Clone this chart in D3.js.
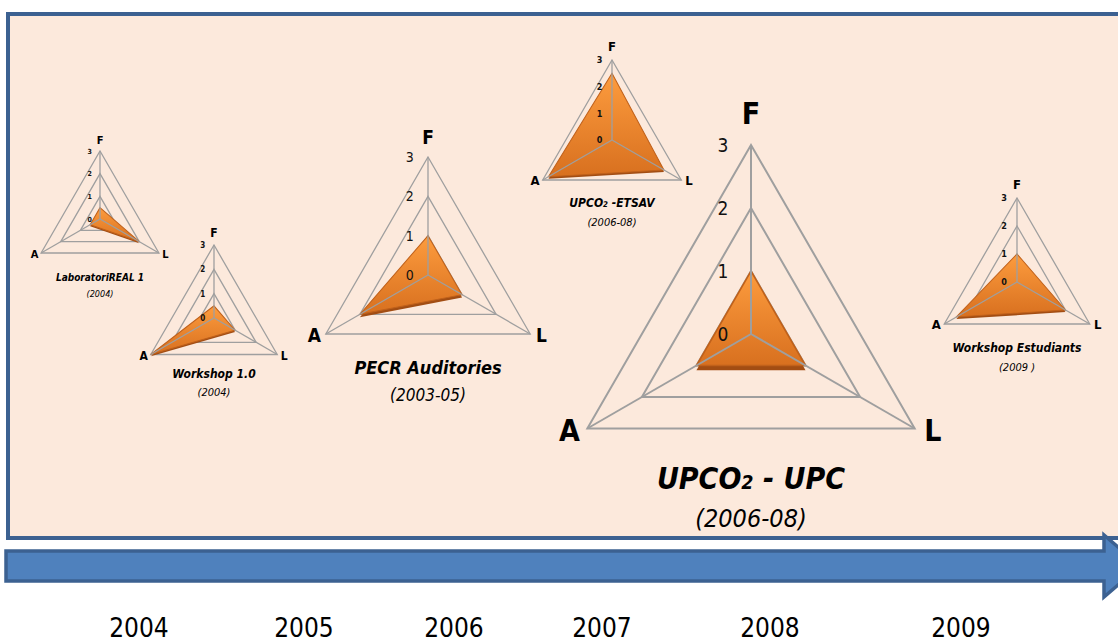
<!DOCTYPE html>
<html>
<head>
<meta charset="utf-8">
<script src="https://cdn.jsdelivr.net/npm/d3@7"></script>
<style>
  body { margin: 0; background: #ffffff; }
  svg { display: block; }
</style>
</head>
<body>
<div id="chart"></div>
<script>
// radar values per project, axes F / L / A on a 0-3 scale
var charts = ["LaboratoriREAL 1", "Workshop 1.0", "PECR Auditories", "UPCO2 -ETSAV", "UPCO2 - UPC", "Workshop Estudiants"];
var periods = ["(2004)", "(2004)", "(2003-05)", "(2006-08)", "(2006-08)", "(2009 )"];
var axes = ["F", "L", "A"];
var fValues = [0.5, 0.5, 1, 2.5, 1, 1];
var lValues = [2, 1, 1, 2.25, 1, 2];
var aValues = [0.5, 3, 2, 2.75, 1, 2.5];
var tickValues = [0, 1, 2, 3];
var years = [2004, 2005, 2006, 2007, 2008, 2009];

// where each radar sits on the slide
var layout = [
  {cx: 100,  cy: 219, r: 68,  lab: 11, tick: 7,  tfs: 10, sfs: 9,  ty: 281, sy: 297},
  {cx: 214,  cy: 318, r: 73,  lab: 12, tick: 8,  tfs: 12, sfs: 11, ty: 378, sy: 396},
  {cx: 428,  cy: 275, r: 118, lab: 19, tick: 14, tfs: 18, sfs: 17, ty: 374, sy: 401},
  {cx: 612,  cy: 140, r: 80,  lab: 13, tick: 9,  tfs: 12, sfs: 11, ty: 207, sy: 226},
  {cx: 751,  cy: 334, r: 189, lab: 30, tick: 19, tfs: 30, sfs: 25, ty: 489, sy: 527},
  {cx: 1017, cy: 282, r: 84,  lab: 13, tick: 9,  tfs: 12, sfs: 11, ty: 352, sy: 371}
];
var yearPos = [139, 304, 454, 602, 770, 961];

var width = 1118, height = 642;
var font = "'DejaVu Sans Condensed', 'DejaVu Sans', sans-serif";

var svg = d3.select('#chart').append('svg')
  .attr('width', width)
  .attr('height', height)
  .style('background', '#ffffff');

var defs = svg.append('defs');
var grad = defs.append('linearGradient')
  .attr('id', 'orange')
  .attr('x1', 0).attr('y1', 0).attr('x2', 0).attr('y2', 1);
grad.append('stop').attr('offset', '0%').attr('stop-color', '#fd9c3e');
grad.append('stop').attr('offset', '100%').attr('stop-color', '#d8701f');

// panel
svg.append('rect')
  .attr('x', 8).attr('y', 14)
  .attr('width', 1140).attr('height', 524)
  .style('fill', '#fce9dc')
  .style('stroke', '#3c6191')
  .style('stroke-width', 4);

// timeline arrow
svg.append('path')
  .attr('d', 'M6,551 L1104,551 L1104,535 L1140,566 L1104,597 L1104,581 L6,581 Z')
  .style('fill', '#4f81bd')
  .style('stroke', '#3c6191')
  .style('stroke-width', 3.5);

var yearX = d3.scaleOrdinal().domain(years).range(yearPos);
svg.append('g').selectAll('text')
  .data(years)
  .enter().append('text')
  .attr('x', function(d) { return yearX(d); })
  .attr('y', 637)
  .attr('text-anchor', 'middle')
  .style('font-family', font)
  .style('font-size', '26px')
  .style('fill', '#000')
  .text(function(d) { return d; });

var angle = d3.scaleOrdinal().domain(axes).range([0, 2 * Math.PI / 3, 4 * Math.PI / 3]);

function point(a, rad) {
  var t = angle(a);
  return [rad * Math.sin(t), -rad * Math.cos(t)];
}

charts.forEach(function(name, i) {
  var L = layout[i];
  var rScale = d3.scaleLinear().domain([0, 3]).range([0, L.r]);
  var sw = Math.max(1.3, L.r / 95);
  var values = {F: fValues[i], L: lValues[i], A: aValues[i]};

  var g = svg.append('g')
    .attr('transform', 'translate(' + L.cx + ',' + L.cy + ')');

  var line = d3.lineRadial()
    .angle(function(d) { return angle(d.axis); })
    .radius(function(d) { return rScale(d.value); })
    .curve(d3.curveLinearClosed);

  // rings
  g.selectAll('.ring')
    .data(tickValues.filter(function(t) { return t > 0; }))
    .enter().append('path')
    .attr('d', function(t) {
      return line(axes.map(function(a) { return {axis: a, value: t}; }));
    })
    .style('fill', 'none')
    .style('stroke', '#9f9f9f')
    .style('stroke-width', sw);

  var series = axes.map(function(a) { return {axis: a, value: values[a]}; });

  // shadow edge + filled area
  g.append('path')
    .attr('d', line(series))
    .attr('transform', 'translate(0,' + (L.r * 0.025) + ')')
    .style('fill', '#a24d13');
  g.append('path')
    .attr('d', line(series))
    .style('fill', 'url(#orange)')
    .style('stroke', '#c0611b')
    .style('stroke-width', sw * 0.8);

  // spokes
  g.selectAll('.spoke')
    .data(axes)
    .enter().append('line')
    .attr('x1', 0).attr('y1', 0)
    .attr('x2', function(a) { return point(a, rScale(3))[0]; })
    .attr('y2', function(a) { return point(a, rScale(3))[1]; })
    .style('stroke', '#9f9f9f')
    .style('stroke-width', sw);

  // tick labels along F axis
  g.selectAll('.tick')
    .data(tickValues)
    .enter().append('text')
    .attr('x', -L.r * 0.12)
    .attr('y', function(t) { return -rScale(t); })
    .attr('dy', '0.36em')
    .attr('text-anchor', 'end')
    .style('font-family', font)
    .style('font-size', L.tick + 'px')
    .style('font-weight', L.r < 90 ? 'bold' : 'normal')
    .style('fill', '#111')
    .text(function(t) { return t; });

  // axis letters
  g.selectAll('.axislab')
    .data(axes)
    .enter().append('text')
    .attr('x', function(a) {
      var p = point(a, rScale(3));
      if (a === 'A') return p[0] - L.r * 0.04;
      if (a === 'L') return p[0] + L.r * 0.05;
      return p[0];
    })
    .attr('y', function(a) {
      var p = point(a, rScale(3));
      if (a === 'F') return p[1] - L.r * 0.11;
      return p[1] + L.lab * 0.42;
    })
    .attr('text-anchor', function(a) {
      return a === 'A' ? 'end' : (a === 'L' ? 'start' : 'middle');
    })
    .style('font-family', font)
    .style('font-size', L.lab + 'px')
    .style('font-weight', 'bold')
    .style('fill', '#000')
    .text(function(a) { return a; });

  // title with subscript 2
  var title = svg.append('text')
    .attr('x', L.cx)
    .attr('y', L.ty)
    .attr('text-anchor', 'middle')
    .style('font-family', font)
    .style('font-size', L.tfs + 'px')
    .style('font-weight', 'bold')
    .style('font-style', 'italic')
    .style('fill', '#000');
  var k = name.indexOf('O2');
  if (k >= 0) {
    title.append('tspan').text(name.slice(0, k + 1));
    title.append('tspan').style('font-size', (L.tfs * 0.65) + 'px').text('2');
    title.append('tspan').text(name.slice(k + 2));
  } else {
    title.text(name);
  }

  svg.append('text')
    .attr('x', L.cx)
    .attr('y', L.sy)
    .attr('text-anchor', 'middle')
    .style('font-family', font)
    .style('font-size', L.sfs + 'px')
    .style('font-style', 'italic')
    .style('fill', '#000')
    .text(periods[i]);
});
</script>
</body>
</html>
